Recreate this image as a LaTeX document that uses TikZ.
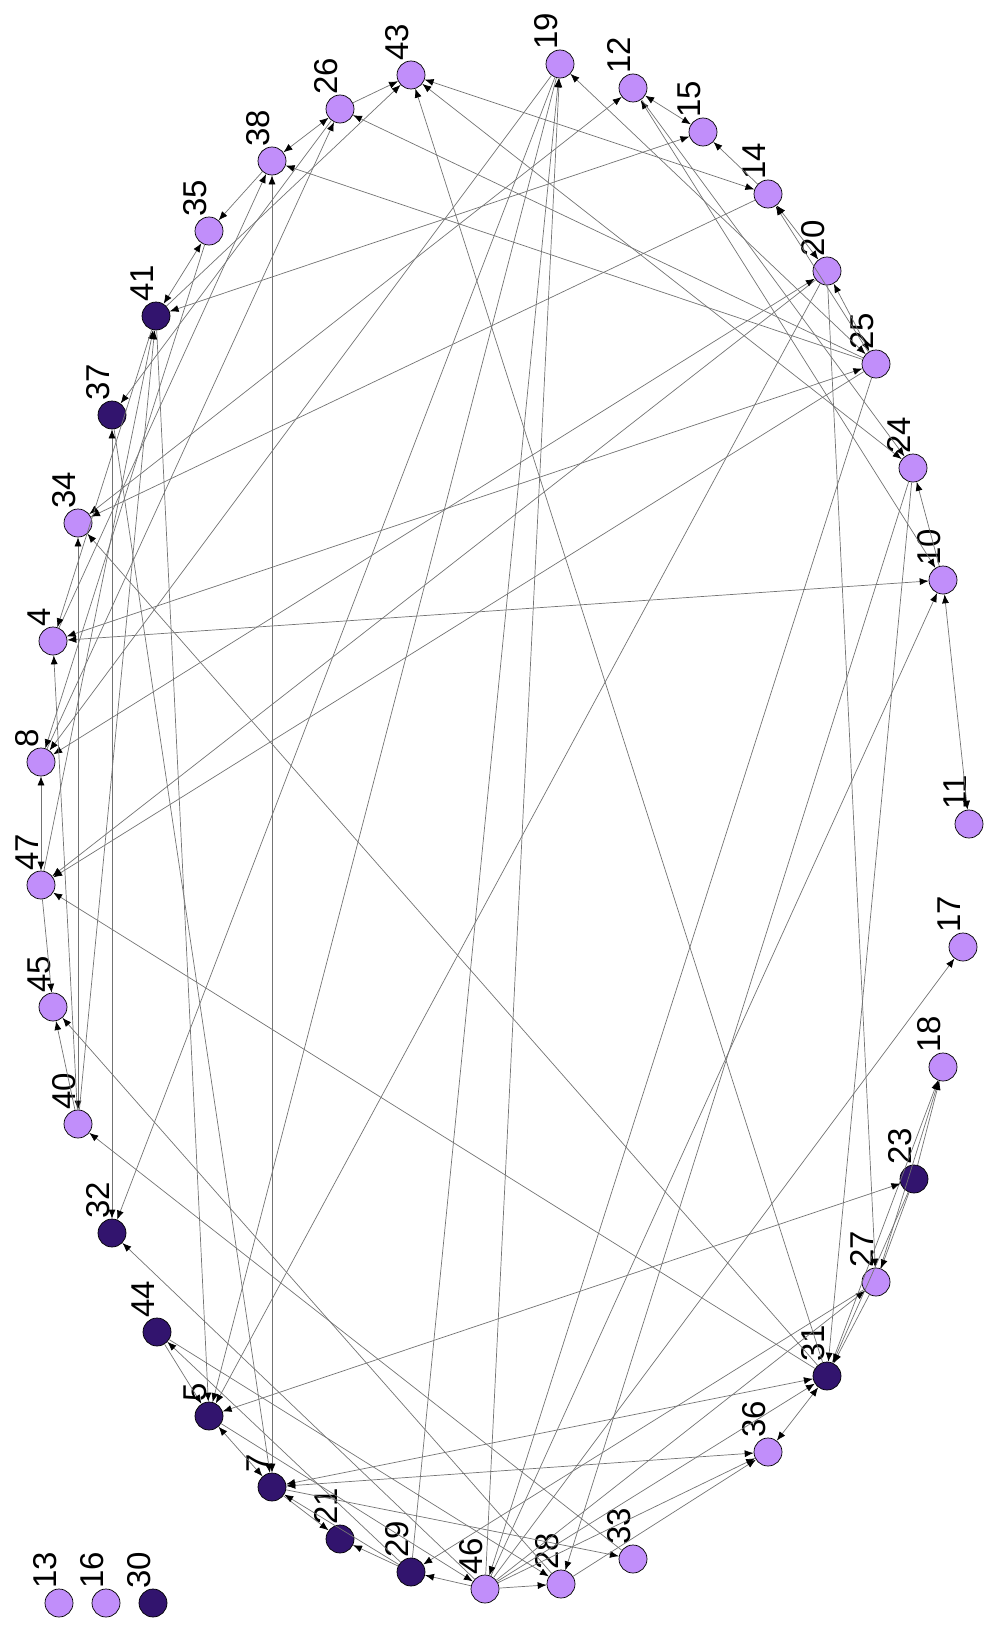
\documentclass[tikz,border=0pt]{standalone}
\usepackage{fontspec}
\usepackage{tikz}
\usetikzlibrary{arrows.meta}
\newfontfamily\numfont{Liberation Sans}
\definecolor{lilac}{RGB}{193,142,250}
\definecolor{indigo}{RGB}{50,20,110}

\begin{document}
\begin{tikzpicture}[x=1pt,y=-1pt,
  lt/.style={circle,draw=black,fill=lilac,minimum size=28pt,inner sep=0pt,line width=0.7pt},
  dk/.style={lt,fill=indigo},
  num/.style={rotate=90,anchor=base west,inner sep=0pt,font=\numfont\fontsize{33}{33}\selectfont},
  ar/.style={-{Latex[length=9pt,width=7pt,color=black]},draw=black!55,line width=0.7pt},
  ab/.style={{Latex[length=9pt,width=7pt,color=black]}-{Latex[length=9pt,width=7pt,color=black]},draw=black!55,line width=0.7pt}
]
\useasboundingbox (0,0) rectangle (989,1627);

% ring of vertices
\node[lt,label={[num]100:43}] (n43) at (411,75) {};
\node[lt,label={[num]100:19}] (n19) at (560,64) {};
\node[lt,label={[num]100:12}] (n12) at (633,88) {};
\node[lt,label={[num]100:15}] (n15) at (703,132) {};
\node[lt,label={[num]100:14}] (n14) at (768,194) {};
\node[lt,label={[num]100:20}] (n20) at (827,271) {};
\node[lt,label={[num]100:25}] (n25) at (876,364) {};
\node[lt,label={[num]100:24}] (n24) at (913,468) {};
\node[lt,label={[num]100:10}] (n10) at (943,580) {};
\node[lt,label={[num]100:11}] (n11) at (969,824) {};
\node[lt,label={[num]100:17}] (n17) at (963,947) {};
\node[lt,label={[num]100:18}] (n18) at (943,1067) {};
\node[dk,label={[num]100:23}] (n23) at (914,1179) {};
\node[lt,label={[num]100:27}] (n27) at (876,1282) {};
\node[dk,label={[num]100:31}] (n31) at (827,1376) {};
\node[lt,label={[num]100:36}] (n36) at (768,1452) {};
\node[lt,label={[num]100:33}] (n33) at (633,1559) {};
\node[lt,label={[num]100:28}] (n28) at (561,1584) {};
\node[lt,label={[num]100:46}] (n46) at (485,1589) {};
\node[dk,label={[num]100:29}] (n29) at (411,1572) {};
\node[dk,label={[num]100:21}] (n21) at (340,1539) {};
\node[dk,label={[num]100:7}] (n7) at (272,1487) {};
\node[dk,label={[num]100:5}] (n5) at (209,1416) {};
\node[dk,label={[num]100:44}] (n44) at (157,1332) {};
\node[dk,label={[num]100:32}] (n32) at (112,1233) {};
\node[lt,label={[num]100:40}] (n40) at (78,1124) {};
\node[lt,label={[num]100:45}] (n45) at (53,1007) {};
\node[lt,label={[num]100:47}] (n47) at (41,885) {};
\node[lt,label={[num]100:8}] (n8) at (41,762) {};
\node[lt,label={[num]100:4}] (n4) at (53,641) {};
\node[lt,label={[num]100:34}] (n34) at (78,523) {};
\node[dk,label={[num]100:37}] (n37) at (112,415) {};
\node[dk,label={[num]100:41}] (n41) at (156,316) {};
\node[lt,label={[num]100:35}] (n35) at (209,231) {};
\node[lt,label={[num]100:38}] (n38) at (272,161) {};
\node[lt,label={[num]100:26}] (n26) at (340,109) {};

% legend
\node[lt,label={[num]100:13}] (k13) at (59,1603) {};
\node[lt,label={[num]100:16}] (k16) at (106,1603) {};
\node[dk,label={[num]100:30}] (k30) at (153,1603) {};

% top
\draw[ar] (n26)--(n43); \draw[ab] (n26)--(n38); \draw[ar] (n38)--(n35);
\draw[ab] (n35)--(n41); \draw[ab] (n43)--(n14); \draw[ab] (n43)--(n24);
\draw[ar] (n31)--(n43); \draw[ar] (n41)--(n43); \draw[ab] (n15)--(n41);
\draw[ab] (n12)--(n15); \draw[ar] (n14)--(n15); \draw[ab] (n14)--(n20);
\draw[ab] (n20)--(n25); \draw[ar] (n25)--(n14);
% right
\draw[ar] (n20)--(n27); \draw[ar] (n24)--(n31); \draw[ar] (n10)--(n24);
\draw[ab] (n12)--(n10); \draw[ab] (n4)--(n10); \draw[ab] (n10)--(n11);
\draw[ar] (n46)--(n10); \draw[ar] (n46)--(n17); \draw[ar] (n23)--(n18);
\draw[ar] (n27)--(n18); \draw[ar] (n31)--(n18); \draw[ar] (n23)--(n27);
\draw[ar] (n27)--(n31); \draw[ar] (n23)--(n31);
% across
\draw[ab] (n5)--(n23); \draw[ar] (n20)--(n5); \draw[ar] (n24)--(n28);
\draw[ab] (n38)--(n7); \draw[ab] (n32)--(n37); \draw[ar] (n25)--(n47);
\draw[ar] (n20)--(n47); \draw[ab] (n8)--(n20); \draw[ab] (n4)--(n25);
\draw[ar] (n31)--(n47); \draw[ar] (n31)--(n34); \draw[ar] (n19)--(n5);
\draw[ar] (n19)--(n32); \draw[ar] (n41)--(n5); \draw[ar] (n37)--(n7);
\draw[ab] (n25)--(n19); \draw[ar] (n12)--(n24); \draw[ar] (n25)--(n26);
\draw[ar] (n25)--(n38); \draw[ab] (n7)--(n31); \draw[ab] (n7)--(n36);
\draw[ar] (n7)--(n33); \draw[ar] (n46)--(n36); \draw[ar] (n46)--(n27);
\draw[ar] (n46)--(n31); \draw[ar] (n28)--(n36); \draw[ar] (n25)--(n46);
\draw[ab] (n31)--(n36); \draw[ar] (n14)--(n34); \draw[ab] (n34)--(n12);
\draw[ar] (n29)--(n19); \draw[ar] (n46)--(n19); \draw[ar] (n19)--(n8);
\draw[ar] (n8)--(n26); \draw[ar] (n26)--(n37); \draw[ar] (n4)--(n38);
\draw[ar] (n35)--(n8);
% left
\draw[ab] (n34)--(n40); \draw[ar] (n40)--(n4); \draw[ab] (n47)--(n8);
\draw[ar] (n47)--(n45); \draw[ar] (n40)--(n45); \draw[ar] (n28)--(n45);
\draw[ar] (n47)--(n41); \draw[ar] (n40)--(n41); \draw[ar] (n41)--(n4);
\draw[ar] (n33)--(n40);
% bottom
\draw[ar] (n29)--(n44); \draw[ar] (n46)--(n32); \draw[ar] (n5)--(n46);
\draw[ar] (n27)--(n29); \draw[ar] (n29)--(n21); \draw[ar] (n7)--(n21);
\draw[ar] (n46)--(n29); \draw[ar] (n46)--(n28); \draw[ar] (n44)--(n28);
\draw[ar] (n44)--(n5); \draw[ab] (n5)--(n7); \draw[ar] (n29)--(n7);
\end{tikzpicture}
\end{document}
